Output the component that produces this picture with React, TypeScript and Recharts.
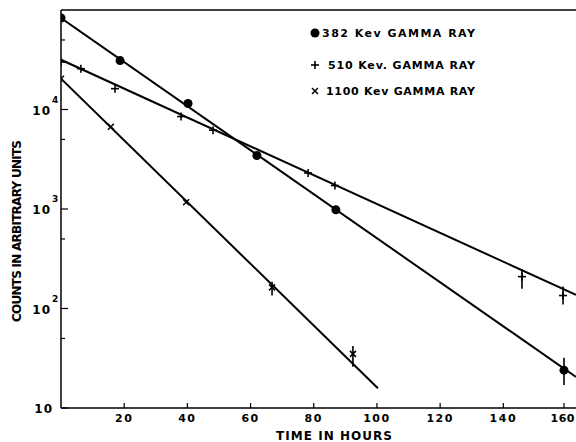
import React from 'react';
import { ComposedChart, Scatter, XAxis, YAxis, ErrorBar, ReferenceLine, Legend } from 'recharts';

// 382 Kev gamma ray (filled dots)
const hours382 = [0, 18.7, 40.2, 62, 87, 159.2];
const counts382 = [83000, 31000, 11500, 3450, 980, 24];
const err382: (number[] | null)[] = [null, null, null, null, null, [7, 8]];
const fitHours382 = [0, 163];
const fitCounts382 = [83000, 20.5];

// 510 Kev gamma ray (plus)
const hours510 = [0, 6.3, 17.1, 38, 48.1, 78.2, 86.7, 145.9, 158.9];
const counts510 = [30000, 25700, 16200, 8500, 6200, 2300, 1720, 209, 135];
const err510: (number[] | null)[] = [null, null, null, null, null, null, null, [51, 41], [25, 31]];
const fitHours510 = [0, 163];
const fitCounts510 = [31600, 137];

// 1100 Kev gamma ray (cross)
const hours1100 = [0, 15.8, 39.6, 66.8, 92.4];
const counts1100 = [20400, 6700, 1170, 163, 35];
const err1100: (number[] | null)[] = [null, null, null, [28, 23], [9, 7]];
const fitHours1100 = [0, 100.3];
const fitCounts1100 = [20400, 15.8];

const xTicks = [20, 40, 60, 80, 100, 120, 140, 160];
const yTicks = [10, 50, 100, 500, 1000, 5000, 10000, 50000];
const legendLabels = ['382 Kev GAMMA RAY', '510 Kev. GAMMA RAY', '1100 Kev GAMMA RAY'];
const xLabel = 'TIME IN HOURS';
const yLabel = 'COUNTS IN ARBITRARY UNITS';

const FONT = '"DejaVu Sans", sans-serif';

const toRows = (xs: number[], ys: number[], errs?: (number[] | null)[]) =>
  xs.map((x, i) => ({ x, y: ys[i], err: errs && errs[i] ? errs[i] : undefined }));

const rows382 = toRows(hours382, counts382, err382);
const rows510 = toRows(hours510, counts510, err510);
const rows1100 = toRows(hours1100, counts1100, err1100);
const fit382 = toRows(fitHours382, fitCounts382);
const fit510 = toRows(fitHours510, fitCounts510);
const fit1100 = toRows(fitHours1100, fitCounts1100);

const DotShape = (p: any) => <circle cx={p.cx} cy={p.cy} r={4.5} fill="#000" />;
const PlusShape = (p: any) => (
  <g stroke="#000" strokeWidth={1.6}>
    <line x1={p.cx - 4} x2={p.cx + 4} y1={p.cy} y2={p.cy} />
    <line x1={p.cx} x2={p.cx} y1={p.cy - 4} y2={p.cy + 4} />
  </g>
);
const CrossShape = (p: any) => (
  <g stroke="#000" strokeWidth={1.5}>
    <line x1={p.cx - 3} x2={p.cx + 3} y1={p.cy - 3} y2={p.cy + 3} />
    <line x1={p.cx - 3} x2={p.cx + 3} y1={p.cy + 3} y2={p.cy - 3} />
  </g>
);
const NoShape = () => <g />;

const YTick = (props: any) => {
  const { x, y, payload } = props;
  const v = payload.value;
  const lg = Math.log10(v);
  const exp = Math.round(lg);
  const major = Math.abs(lg - exp) < 1e-6;
  return (
    <g>
      <line x1={x} x2={x + (major ? 7 : 4)} y1={y} y2={y} stroke="#000" strokeWidth={1.2} />
      {major && (
        <text x={exp > 1 ? 51 : 53} y={y + 5} textAnchor="end" fontFamily={FONT} fontWeight="bold" fontSize={12} letterSpacing={1} fill="#000">
          10
        </text>
      )}
      {major && exp > 1 && (
        <text x={52} y={y - 7} textAnchor="start" fontFamily={FONT} fontWeight="bold" fontSize={9} fill="#000">
          {exp}
        </text>
      )}
    </g>
  );
};

const XTick = (props: any) => {
  const { x, y, payload } = props;
  const nearEdge = x > 560;
  return (
    <g>
      <line x1={x} x2={x} y1={y} y2={y - 5} stroke="#000" strokeWidth={1.2} />
      <text
        x={nearEdge ? 575 : x}
        y={y + 14}
        textAnchor={nearEdge ? 'end' : 'middle'}
        fontFamily={FONT}
        fontWeight="bold"
        fontSize={11}
        letterSpacing={nearEdge ? 0.5 : 1.5}
        fill="#000"
      >
        {payload.value}
      </text>
    </g>
  );
};

const legendRows = [
  { shape: 'dot', mx: 315, my: 33, tx: 322, ty: 37, len: 153 },
  { shape: 'plus', mx: 315, my: 65, tx: 328, ty: 69, len: 147 },
  { shape: 'cross', mx: 315, my: 91, tx: 326, ty: 95, len: 149 },
];

const LegendContent = () => (
  <svg width={576} height={110} style={{ display: 'block' }}>
    {legendRows.map((r, i) => (
      <g key={i}>
        {r.shape === 'dot' && <DotShape cx={r.mx} cy={r.my} />}
        {r.shape === 'plus' && <PlusShape cx={r.mx} cy={r.my} />}
        {r.shape === 'cross' && <CrossShape cx={r.mx} cy={r.my} />}
        <text x={r.tx} y={r.ty} fontFamily={FONT} fontWeight="bold" fontSize={11} textLength={r.len} lengthAdjust="spacing" fill="#000">
          {legendLabels[i]}
        </text>
      </g>
    ))}
  </svg>
);

const YLabelContent = () => (
  <text x={21} y={231} transform="rotate(-90 21 231)" textAnchor="middle" fontFamily={FONT} fontWeight="bold" fontSize={12} textLength={182} lengthAdjust="spacing" fill="#000">
    {yLabel}
  </text>
);

const XLabelContent = () => (
  <text x={334} y={440} textAnchor="middle" fontFamily={FONT} fontWeight="bold" fontSize={12} textLength={116} lengthAdjust="spacing" fill="#000">
    {xLabel}
  </text>
);

export default function App() {
  return (
    <div style={{ position: 'fixed', left: 0, top: 0, width: 576, height: 442, background: '#fff' }}>
      <ComposedChart width={576} height={442} margin={{ top: 10, right: 0, bottom: 33, left: 60 }}>
        <XAxis
          type="number"
          dataKey="x"
          domain={[0, 163]}
          ticks={xTicks}
          allowDataOverflow
          height={1}
          tickSize={0}
          tickMargin={0}
          tick={<XTick />}
          axisLine={{ stroke: '#000', strokeWidth: 1.5 }}
          label={{ content: <XLabelContent /> }}
        />
        <YAxis
          type="number"
          dataKey="y"
          scale="log"
          domain={[10, 100000]}
          ticks={yTicks}
          allowDataOverflow
          width={1}
          tickSize={0}
          tickMargin={0}
          tick={<YTick />}
          axisLine={{ stroke: '#000', strokeWidth: 1.5 }}
          label={{ content: <YLabelContent /> }}
        />
        <ReferenceLine y={100000} stroke="#000" strokeWidth={1.5} />
        <Legend
          layout="vertical"
          align="center"
          verticalAlign="middle"
          content={<LegendContent />}
          wrapperStyle={{ position: 'absolute', left: 0, top: 0, width: 576, height: 110 }}
        />
        <Scatter data={fit382} line={{ stroke: '#000', strokeWidth: 2 }} shape={<NoShape />} isAnimationActive={false} legendType="none" />
        <Scatter data={fit510} line={{ stroke: '#000', strokeWidth: 2 }} shape={<NoShape />} isAnimationActive={false} legendType="none" />
        <Scatter data={fit1100} line={{ stroke: '#000', strokeWidth: 2 }} shape={<NoShape />} isAnimationActive={false} legendType="none" />
        <Scatter data={rows382} shape={<DotShape />} isAnimationActive={false}>
          <ErrorBar dataKey="err" direction="y" width={0} stroke="#000" strokeWidth={1.6} />
        </Scatter>
        <Scatter data={rows510} shape={<PlusShape />} isAnimationActive={false}>
          <ErrorBar dataKey="err" direction="y" width={0} stroke="#000" strokeWidth={1.6} />
        </Scatter>
        <Scatter data={rows1100} shape={<CrossShape />} isAnimationActive={false}>
          <ErrorBar dataKey="err" direction="y" width={0} stroke="#000" strokeWidth={1.6} />
        </Scatter>
      </ComposedChart>
    </div>
  );
}
